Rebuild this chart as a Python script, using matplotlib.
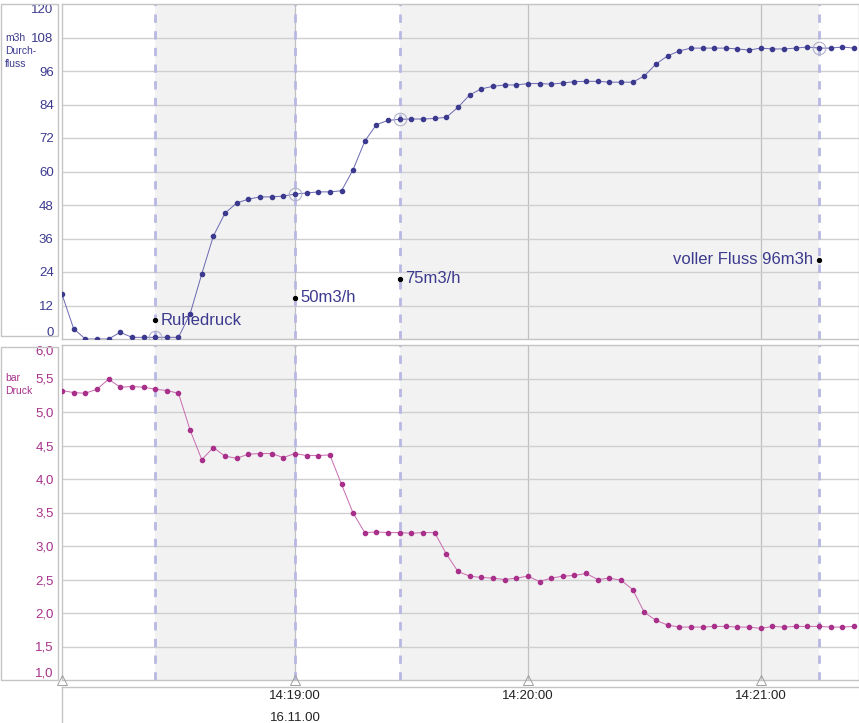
import matplotlib
matplotlib.use("Agg")
import matplotlib.pyplot as plt
from matplotlib.patches import Rectangle
import pandas as pd

plt.rcParams['font.family'] = ['Liberation Sans', 'DejaVu Sans']

# Data: one sample every 3 s starting 14:18:00
times = pd.date_range('2000-11-16 14:18:00', periods=69, freq='3s')
flow = [16, 3.7, 0, 0, 0, 2.4, 0.6, 0.6, 0.6, 0.6, 0.6, 9, 23.3, 36.9, 45.1, 48.7,
        50.1, 50.9, 50.9, 51.2, 51.9, 52.3, 52.7, 52.7, 53.1, 60.7, 70.9, 76.8, 78.3,
        78.7, 78.8, 78.8, 79.0, 79.4, 83.0, 87.4, 89.6, 90.5, 91.0, 91.0, 91.5, 91.5,
        91.3, 91.7, 92.2, 92.3, 92.3, 92.0, 92.0, 92.0, 94.2, 98.5, 101.4, 103.2,
        104.2, 104.2, 104.2, 104.2, 103.9, 103.5, 104.2, 103.9, 103.9, 104.2, 104.6,
        104.2, 104.2, 104.6, 104.2]
pressure = [5.32, 5.29, 5.28, 5.34, 5.49, 5.37, 5.38, 5.37, 5.34, 5.32, 5.28, 4.73,
            4.29, 4.47, 4.34, 4.31, 4.37, 4.38, 4.38, 4.32, 4.38, 4.35, 4.35, 4.36,
            3.92, 3.49, 3.20, 3.21, 3.20, 3.20, 3.19, 3.20, 3.20, 2.88, 2.62, 2.55,
            2.53, 2.52, 2.50, 2.52, 2.55, 2.47, 2.52, 2.55, 2.56, 2.59, 2.50, 2.52,
            2.49, 2.35, 2.01, 1.89, 1.82, 1.79, 1.79, 1.79, 1.80, 1.80, 1.79, 1.79,
            1.77, 1.80, 1.79, 1.80, 1.80, 1.80, 1.79, 1.79, 1.80]

# Markers / events
event_times = pd.to_datetime(['2000-11-16 14:18:24', '2000-11-16 14:19:00',
                              '2000-11-16 14:19:27', '2000-11-16 14:21:15'])
event_labels = ['Ruhedruck', '50m3/h', '75m3/h', 'voller Fluss 96m3h']
event_label_y = [6.8, 14.7, 21.5, 28.3]
event_flow = [0.6, 51.9, 78.7, 104.2]

flow_ticks = [0, 12, 24, 36, 48, 60, 72, 84, 96, 108, 120]
press_ticks = [1.0, 1.5, 2.0, 2.5, 3.0, 3.5, 4.0, 4.5, 5.0, 5.5, 6.0]
minute_ticks = pd.to_datetime(['2000-11-16 14:18:00', '2000-11-16 14:19:00',
                               '2000-11-16 14:20:00', '2000-11-16 14:21:00'])

blue = '#3c3a8e'
blue_line = '#6a68b0'
magenta = '#a8308a'
magenta_line = '#c86aae'
grid_c = '#cfcfcf'
edge_c = '#c4c4c4'
dash_c = '#b8b8e4'
shade_c = '#f2f2f2'

W, H = 859, 723
fig = plt.figure(figsize=(W / 100, H / 100), dpi=100)
fig.patch.set_facecolor('white')

def fx(px):
    return px / W

def fy(py):
    return 1 - py / H

x0 = times[0]
x1 = times[0] + pd.Timedelta(seconds=205.3)

ax_f = fig.add_axes([fx(62), fy(339), fx(797), 335 / H])
ax_p = fig.add_axes([fx(62), fy(680), fx(797), 335 / H])
ax_t = fig.add_axes([fx(62), 0, fx(797), 36 / H])

for ax in (ax_f, ax_p, ax_t):
    ax.set_xlim(x0, x1)
    for s in ax.spines.values():
        s.set_color(edge_c)
        s.set_linewidth(1)

# label boxes on the left
for top, bot in ((4, 336), (347, 680)):
    fig.patches.append(Rectangle((fx(0.5), fy(bot)), fx(57), (bot - top) / H,
                                 transform=fig.transFigure, fill=False,
                                 edgecolor=edge_c, lw=1))

shade_spans = [(event_times[0], event_times[1]), (event_times[2], event_times[3])]

for ax in (ax_f, ax_p):
    for a, b in shade_spans:
        ax.axvspan(a, b, color=shade_c, zorder=0, lw=0)
    for t in minute_ticks[1:]:
        ax.axvline(t, color='#c0c0c0', lw=0.9, zorder=1)
    for t in event_times:
        ax.axvline(t, color=dash_c, lw=2, dashes=(3, 3), zorder=2)
    ax.set_xticks(minute_ticks)
    ax.tick_params(axis='x', length=0, labelbottom=False)
    ax.tick_params(axis='y', length=0, pad=6, labelsize=9.5)

# flow panel
ax_f.set_ylim(0, 120)
ax_f.set_yticks(flow_ticks)
ax_f.set_yticklabels([str(v) for v in flow_ticks])
for v in flow_ticks[1:-1]:
    ax_f.axhline(v, color=grid_c, lw=1, zorder=1)
ax_f.tick_params(axis='y', colors=blue)
labs = ax_f.get_yticklabels()
labs[0].set_va('bottom')
labs[-1].set_va('top')
ax_f.plot(times, flow, color=blue_line, lw=0.7, zorder=3)
ax_f.plot(times, flow, 'o', color=blue, ms=3, zorder=4)
ax_f.plot(event_times, event_flow, 'o', ms=9, mfc='none', mec='#b0b0cc', mew=0.8, zorder=5)
ax_f.plot(event_times, event_label_y, 'o', color='black', ms=2.8, zorder=6)
for i, (t, y, s) in enumerate(zip(event_times, event_label_y, event_labels)):
    if i == len(event_labels) - 1:
        ax_f.annotate(s, (t, y), xytext=(-4, 0), textcoords='offset points',
                      ha='right', va='center', fontsize=12, color=blue, zorder=7)
    else:
        ax_f.annotate(s, (t, y), xytext=(4, 0), textcoords='offset points',
                      ha='left', va='center', fontsize=12, color=blue, zorder=7)
for k, line in enumerate(['m3h', 'Durch-', 'fluss']):
    fig.text(fx(5), fy(38 + 13 * k), line, fontsize=7.5, color=blue,
             ha='left', va='center')

# pressure panel
ax_p.set_ylim(1, 6)
ax_p.set_yticks(press_ticks)
ax_p.set_yticklabels([f'{v:.1f}'.replace('.', ',') for v in press_ticks])
for v in press_ticks[1:-1]:
    ax_p.axhline(v, color=grid_c, lw=1, zorder=1)
ax_p.tick_params(axis='y', colors=magenta)
labs = ax_p.get_yticklabels()
labs[0].set_va('bottom')
labs[-1].set_va('top')
ax_p.plot(times, pressure, color=magenta_line, lw=0.7, zorder=3)
ax_p.plot(times, pressure, 'o', color=magenta, ms=3, zorder=4)
ax_p.plot(minute_ticks, [1.0] * len(minute_ticks), '^', ms=7, mfc='none',
          mec='#a0a0a0', mew=0.7, zorder=6, clip_on=False)
for k, line in enumerate(['bar', 'Druck']):
    fig.text(fx(5), fy(378 + 13 * k), line, fontsize=7.5, color=magenta,
             ha='left', va='center')

# time axis box
ax_t.set_ylim(0, 1)
ax_t.set_yticks([])
ax_t.set_xticks([])
ax_t.spines['right'].set_visible(False)
ax_t.spines['bottom'].set_visible(False)
for t in minute_ticks[1:]:
    ax_t.text(t, 0.75, t.strftime('%H:%M:%S'), ha='center', va='center',
              fontsize=9.5, color='#222222')
ax_t.text(minute_ticks[1], 0.14, minute_ticks[1].strftime('%d.%m.%y'), ha='center',
          va='center', fontsize=9.5, color='#222222')

fig.savefig('out.png', dpi=100)
